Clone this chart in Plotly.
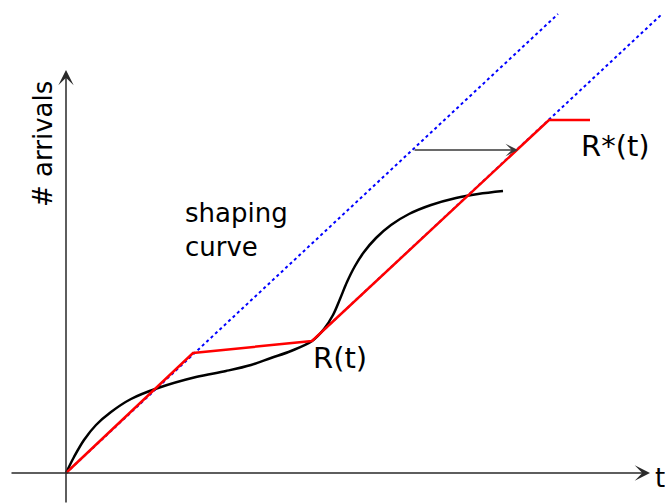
import plotly.graph_objects as go

# Data (diagram units: origin at axis crossing)
shape1_x = [0, 492]
shape1_y = [0, 459]
shape2_x = [246, 596]
shape2_y = [132, 459]

r_star_x = [0, 127, 246, 483, 524]
r_star_y = [0, 120, 132, 353, 353]

r_x = [0, 8, 18, 30, 45, 65, 92, 130, 160, 185, 205, 225, 246, 258, 267, 274, 281,
       289, 298, 310, 325, 343, 365, 390, 412, 437]
r_y = [0, 16, 33, 48, 61, 74, 85, 96, 102, 108, 115, 122, 132, 144, 158, 174, 191,
       207, 221, 235, 248, 259, 268, 275, 279, 282]

shift_from = [347, 323]
shift_to = [452, 323]

axis_x_ext = [-56, 584]
axis_y_ext = [-31, 403]

fig = go.Figure()

fig.add_trace(go.Scatter(x=shape1_x, y=shape1_y, mode="lines",
                         line=dict(color="#0000ff", width=2, dash="3px,3px"), hoverinfo="skip"))
fig.add_trace(go.Scatter(x=shape2_x, y=shape2_y, mode="lines",
                         line=dict(color="#0000ff", width=2, dash="3px,3px"), hoverinfo="skip"))
fig.add_trace(go.Scatter(x=r_x, y=r_y, mode="lines", line_shape="spline",
                         line=dict(color="black", width=2.5, smoothing=1, simplify=False),
                         hoverinfo="skip"))
fig.add_trace(go.Scatter(x=r_star_x, y=r_star_y, mode="lines",
                         line=dict(color="#ff0000", width=2.5), hoverinfo="skip"))

font = dict(family="DejaVu Sans", size=26, color="black")
font_r = dict(family="DejaVu Sans", size=29, color="black")

def arrow(x0, y0, x1, y1, color="#222222", width=1.5, size=1.6):
    fig.add_annotation(x=x1, y=y1, ax=x0, ay=y0, xref="x", yref="y", axref="x", ayref="y",
                       text="", showarrow=True, arrowhead=3, arrowsize=size,
                       arrowwidth=width, arrowcolor=color, standoff=0, startstandoff=0)

# axes
arrow(axis_x_ext[0], 0, axis_x_ext[1], 0, color="#2a2a2a", size=1.7)
arrow(0, axis_y_ext[0], 0, axis_y_ext[1], color="#2a2a2a", size=1.7)
# shift arrow
arrow(shift_from[0], shift_from[1], shift_to[0], shift_to[1], color="#3a3a3a", width=1.3)

fig.add_annotation(x=587, y=-5, text="t", showarrow=False, xanchor="left", yanchor="middle", font=font)
fig.add_annotation(x=-23, y=329, text="# arrivals", showarrow=False, textangle=-90,
                   xanchor="center", yanchor="middle", font=font)
fig.add_annotation(x=117, y=243, text="shaping<br>curve", showarrow=False, align="left",
                   xanchor="left", yanchor="middle", font=font)
fig.add_annotation(x=245, y=115, text="R(t)", showarrow=False, xanchor="left", yanchor="middle", font=font_r)
fig.add_annotation(x=513, y=327, text="R*(t)", showarrow=False, xanchor="left", yanchor="middle", font=font_r)

fig.update_layout(width=665, height=504, margin=dict(l=0, r=0, t=0, b=0),
                  paper_bgcolor="white", plot_bgcolor="white", showlegend=False,
                  xaxis=dict(range=[-66, 599], visible=False, fixedrange=True),
                  yaxis=dict(range=[-31, 473], visible=False, fixedrange=True))

fig.write_html("out.html", config={"displayModeBar": False},
               post_script="document.body.style.margin='0';document.body.style.overflow='hidden';")
